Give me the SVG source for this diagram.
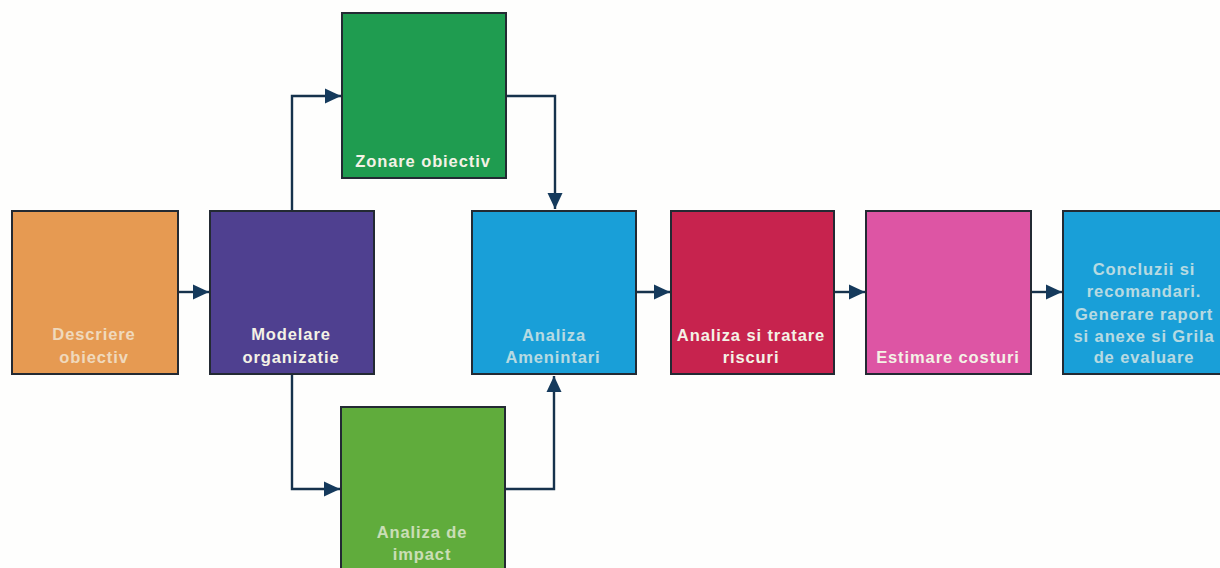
<svg xmlns="http://www.w3.org/2000/svg" width="1220" height="568" viewBox="0 0 1220 568">
<defs>
<marker id="arrow" markerUnits="userSpaceOnUse" markerWidth="18" markerHeight="16" refX="16" refY="8" orient="auto"><path d="M0 0.5L16 8L0 15.5Z" fill="#153a5c"/></marker>
</defs>
<style>
.box{stroke:#232a33;stroke-width:2}
.lbl{font-family:"Liberation Sans",Arial,sans-serif;font-size:16.5px;fill:#f4f2e6;text-anchor:middle;font-weight:bold;letter-spacing:.9px}
.soft{opacity:.72}
.con{fill:none;stroke:#16324c;stroke-width:2.4;marker-end:url(#arrow)}
</style>
<rect width="1220" height="568" fill="#fefefd"/>
<g id="connectors">
<path class="con" d="M178 292H209"/>
<path class="con" d="M292 210V96H341"/>
<path class="con" d="M292 374V489H340"/>
<path class="con" d="M506 96H555V209"/>
<path class="con" d="M505 489H554V376"/>
<path class="con" d="M636 292H670"/>
<path class="con" d="M834 292H865"/>
<path class="con" d="M1031 292H1062"/>
</g>
<g id="descriere"><rect class="box" x="12" y="211" width="166" height="163" fill="#e69a52"/><text class="lbl soft" x="94" y="340">Descriere</text><text class="lbl soft" x="94" y="363">obiectiv</text></g>
<g id="modelare"><rect class="box" x="210" y="211" width="164" height="163" fill="#4f4090"/><text class="lbl" x="291" y="340">Modelare</text><text class="lbl" x="291" y="363">organizatie</text></g>
<g id="zonare"><rect class="box" x="342" y="13" width="164" height="165" fill="#1f9c50"/><text class="lbl" x="423" y="167">Zonare obiectiv</text></g>
<g id="impact"><rect class="box" x="341" y="407" width="164" height="170" fill="#60ac3c"/><text class="lbl soft" x="422" y="538">Analiza de</text><text class="lbl soft" x="422" y="560">impact</text></g>
<g id="amenintari"><rect class="box" x="472" y="211" width="164" height="163" fill="#199fd8"/><text class="lbl soft" x="554" y="341">Analiza</text><text class="lbl soft" x="553" y="363">Amenintari</text></g>
<g id="riscuri"><rect class="box" x="671" y="211" width="163" height="163" fill="#c7234e"/><text class="lbl" x="751" y="341">Analiza si tratare</text><text class="lbl" x="751" y="363">riscuri</text></g>
<g id="costuri"><rect class="box" x="866" y="211" width="165" height="163" fill="#dd55a4"/><text class="lbl" x="948" y="363">Estimare costuri</text></g>
<g id="concluzii"><rect class="box" x="1063" y="211" width="170" height="163" fill="#199fd8"/><text class="lbl soft" x="1144" y="275">Concluzii si</text><text class="lbl soft" x="1144" y="297">recomandari.</text><text class="lbl soft" x="1144" y="320">Generare raport</text><text class="lbl soft" x="1144" y="342">si anexe si Grila</text><text class="lbl soft" x="1144" y="363">de evaluare</text></g>
</svg>
